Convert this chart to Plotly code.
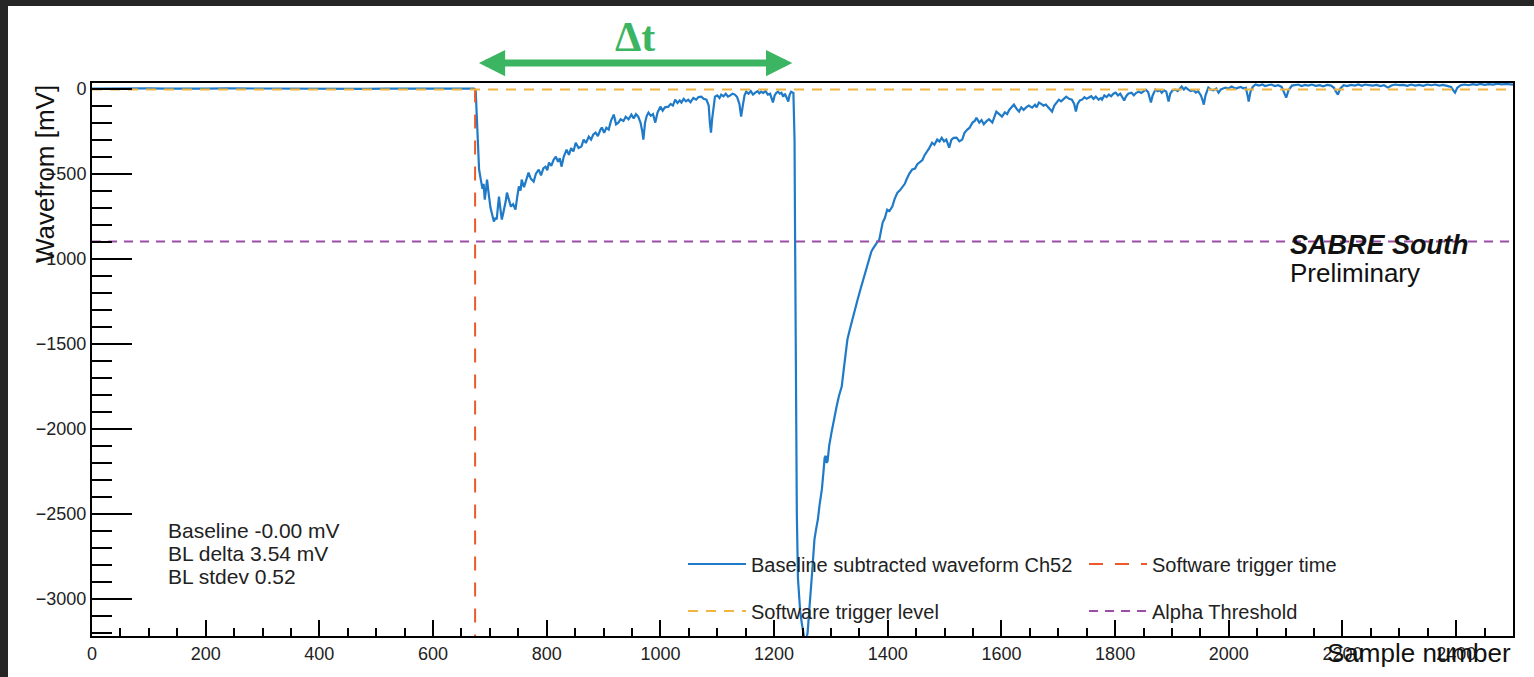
import plotly.graph_objects as go

# ---------------- data ----------------
sample_idx = [
    0, 20, 45, 70, 100, 130, 160, 200, 240, 280, 320, 360, 400, 440, 480, 520, 560, 600, 640, 672,
    675, 677, 679, 681, 684, 687, 689, 691, 693, 695, 698, 701, 704, 707, 710, 712, 714, 716, 719, 721,
    723, 725, 728, 730, 733, 737, 741, 745, 748, 751, 754, 756, 760, 764, 768, 772, 777, 781, 786, 790,
    794, 798, 801, 804, 808, 812, 816, 820, 823, 826, 830, 835, 839, 843, 847, 851, 856, 861, 865, 869,
    874, 878, 882, 886, 890, 894, 897, 901, 905, 909, 913, 918, 922, 926, 930, 935, 939, 944, 949, 953,
    957, 961, 965, 968, 970, 973, 976, 979, 983, 987, 991, 995, 1000, 1004, 1008, 1014, 1018, 1022, 1026, 1030,
    1034, 1037, 1041, 1045, 1049, 1053, 1058, 1063, 1067, 1072, 1076, 1081, 1085, 1087, 1089, 1091, 1094, 1096, 1100, 1104,
    1107, 1111, 1115, 1119, 1123, 1127, 1131, 1135, 1139, 1142, 1145, 1148, 1151, 1155, 1159, 1163, 1167, 1171, 1174, 1177,
    1181, 1185, 1189, 1193, 1196, 1198, 1201, 1204, 1207, 1210, 1213, 1216, 1219, 1222, 1225, 1227, 1230, 1234,
    1236, 1237, 1238, 1239, 1240, 1242, 1244, 1246, 1249, 1251, 1253, 1255, 1257, 1259, 1261, 1263, 1266, 1268, 1271, 1274,
    1277, 1280, 1284, 1287, 1289, 1291, 1292, 1294, 1297, 1301, 1305, 1310, 1314, 1319, 1323, 1329, 1333, 1338, 1343, 1347,
    1352, 1357, 1362, 1368, 1371, 1373, 1376, 1380, 1385, 1388, 1391, 1395, 1399, 1403, 1408, 1412, 1417, 1421, 1426, 1430,
    1433, 1438, 1443, 1448, 1452, 1456, 1461, 1465, 1468, 1473, 1478, 1482, 1487, 1491, 1495, 1499, 1503, 1508, 1512, 1516,
    1521, 1526, 1531, 1535, 1540, 1544, 1549, 1553, 1556, 1561, 1565, 1569, 1573, 1578, 1584, 1588, 1591, 1596, 1601, 1606,
    1610, 1614, 1618, 1622, 1627, 1631, 1635, 1639, 1643, 1648, 1654, 1659, 1662, 1666, 1670, 1674, 1678, 1683, 1689, 1693,
    1697, 1701, 1705, 1709, 1714, 1719, 1724, 1728, 1731, 1734, 1738, 1742, 1746, 1750, 1754, 1758, 1762, 1766, 1771, 1775,
    1777, 1781, 1785, 1789, 1793, 1797, 1801, 1805, 1809, 1813, 1816, 1819, 1823, 1829, 1833, 1837, 1842, 1846, 1850, 1854,
    1858, 1861, 1863, 1866, 1871, 1875, 1879, 1882, 1886, 1890, 1894, 1897, 1901, 1906, 1910, 1914, 1917, 1921, 1924, 1929,
    1933, 1938, 1942, 1946, 1951, 1954, 1956, 1959, 1964, 1968, 1973, 1978, 1982, 1986, 1990, 1994, 1999, 2005, 2009, 2013,
    2017, 2021, 2025, 2030, 2033, 2035, 2038, 2042, 2047, 2053, 2059, 2064, 2069, 2075, 2081, 2087, 2093, 2097, 2101, 2105,
    2111, 2116, 2122, 2128, 2134, 2140, 2146, 2153, 2160, 2166, 2173, 2180, 2185, 2188, 2192, 2196, 2202, 2208, 2215, 2222,
    2228, 2234, 2240, 2247, 2253, 2260, 2267, 2273, 2280, 2286, 2293, 2300, 2307, 2314, 2321, 2328, 2335, 2342, 2349, 2356,
    2363, 2370, 2377, 2384, 2391, 2395, 2398, 2402, 2408, 2415, 2422, 2429, 2436, 2443, 2450, 2457, 2465, 2473, 2480, 2488,
    2500,
]
waveform_mv = [
    0, 1, -1, 0, 1, 0, -1, 0, 1, 0, -1, 0, 1, 0, -1, 0, 1, 0, -1, 0,
    -10, -150, -350, -476, -535, -590, -560, -653, -600, -535, -620, -700, -740, -782, -760, -770, -700, -635, -720, -770,
    -740, -712, -660, -612, -650, -694, -680, -712, -640, -576, -600, -535, -580, -540, -494, -530, -547, -500, -476, -510,
    -470, -459, -480, -435, -455, -420, -400, -430, -410, -459, -400, -359, -390, -350, -370, -318, -350, -341, -300, -320,
    -282, -300, -270, -259, -280, -245, -229, -260, -230, -241, -190, -153, -210, -200, -180, -190, -165, -180, -153, -175,
    -150, -165, -200, -250, -300, -200, -160, -141, -160, -150, -200, -140, -106, -130, -110, -106, -90, -100, -65, -85,
    -70, -82, -60, -75, -65, -80, -55, -65, -50, -47, -60, -65, -100, -200, -259, -180, -80, -47, -40, -55,
    -35, -45, -30, -47, -40, -30, -35, -50, -90, -165, -100, -40, -18, -30, -15, -35, -24, -15, -28, -18,
    -25, -15, -35, -30, -60, -82, -40, -25, -18, -30, -25, -47, -30, -55, -76, -40, -18, -25,
    -300, -900, -1500, -2000, -2500, -2880, -3000, -3080, -3150, -3200, -3230, -3240, -3235, -3200, -3130, -3020, -2888, -2780, -2653, -2590,
    -2535, -2450, -2359, -2250, -2171, -2160, -2200, -2194, -2100, -2024, -1950, -1870, -1810, -1753, -1640, -1476, -1420, -1350, -1290, -1241,
    -1180, -1120, -1060, -988, -960, -947, -930, -910, -890, -830, -788, -760, -712, -720, -694, -650, -612, -600, -576, -560,
    -535, -500, -476, -470, -445, -435, -420, -390, -376, -350, -318, -330, -300, -312, -290, -310, -300, -347, -300, -290,
    -288, -310, -300, -260, -241, -230, -200, -190, -171, -200, -185, -210, -194, -180, -200, -160, -135, -150, -165, -140,
    -150, -124, -110, -94, -120, -135, -110, -125, -112, -100, -112, -95, -110, -82, -90, -100, -94, -110, -135, -100,
    -80, -65, -75, -60, -47, -60, -65, -90, -135, -90, -70, -65, -50, -60, -53, -45, -60, -47, -65, -55,
    -65, -40, -50, -35, -45, -30, -24, -40, -30, -50, -70, -47, -30, -24, -40, -25, -18, -25, -15, -6,
    -20, -60, -82, -40, -6, -15, -10, -24, -10, -18, -76, -30, -10, -6, -15, 0, 12, -5, 6, -6,
    -15, -10, -24, -15, -40, -70, -94, -40, 6, -5, -10, 0, -24, -5, 2, 6, 0, 12, 5, 0,
    6, 10, 2, 5, -40, -76, -20, 10, 24, 18, 24, 15, 20, 24, 15, 20, 10, -20, -53, -10,
    18, 20, 24, 15, 22, 18, 24, 16, 20, 14, 22, 18, 5, -15, -35, 0, 20, 15, 22, 18,
    24, 16, 24, 20, 18, 22, 15, 20, 6, 18, 24, 20, 22, 16, 24, 18, 22, 16, 24, 20,
    24, 18, 22, 16, 10, -10, -24, 5, 20, 24, 20, 26, 22, 28, 22, 26, 24, 29, 25, 27,
    24,
]

x_range = [0, 2500]
y_range = [-3220, 33]
trigger_time_sample = 674
trigger_level_mv = -5
alpha_threshold_mv = -900
delta_t_start = 678
delta_t_end = 1232
baseline_stats = ["Baseline -0.00 mV", "BL delta 3.54 mV", "BL stdev 0.52"]

legend_names = [
    "Baseline subtracted waveform Ch52",
    "Software trigger time",
    "Software trigger level",
    "Alpha Threshold",
]

# ---------------- styling ----------------
FONT = "Liberation Sans, Arial, Helvetica, sans-serif"
C_WAVE = "#1f7ac8"
C_TTIME = "#ec5a2a"
C_TLEVEL = "#f0b440"
C_ALPHA = "#9b4ea6"
C_GREEN = "#3cb562"

W, H = 1534, 677
ML, MR, MT, MB = 92, 21, 83, 41
PW, PH = W - ML - MR, H - MT - MB


def px2paper_x(px):
    return (px - ML) / PW


def px2paper_y(py):
    return (H - MB - py) / PH


fig = go.Figure()

fig.add_trace(go.Scatter(
    x=sample_idx, y=waveform_mv, mode="lines", name=legend_names[0],
    line=dict(color=C_WAVE, width=2.2), legend="legend",
))
fig.add_trace(go.Scatter(
    x=[trigger_time_sample, trigger_time_sample], y=[0, y_range[0]], mode="lines",
    name=legend_names[1], line=dict(color=C_TTIME, width=2, dash="14px,12px"), legend="legend",
))
fig.add_trace(go.Scatter(
    x=x_range, y=[trigger_level_mv, trigger_level_mv], mode="lines",
    name=legend_names[2], line=dict(color=C_TLEVEL, width=2, dash="10px,8px"), legend="legend2",
))
fig.add_trace(go.Scatter(
    x=x_range, y=[alpha_threshold_mv, alpha_threshold_mv], mode="lines",
    name=legend_names[3], line=dict(color=C_ALPHA, width=2, dash="9px,7px"), legend="legend2",
))

annotations = []
# axis titles
annotations.append(dict(
    text="Wavefrom [mV]", xref="paper", yref="paper", x=px2paper_x(45), y=1.0,
    xanchor="center", yanchor="top", textangle=-90, showarrow=False,
    font=dict(family=FONT, size=26, color="#111"),
))
annotations.append(dict(
    text="Sample number", xref="paper", yref="paper", x=1.0, y=px2paper_y(653),
    xanchor="right", yanchor="middle", showarrow=False,
    font=dict(family=FONT, size=26, color="#111"),
))
# baseline stats
for txt, py in zip(baseline_stats, [530, 553, 576]):
    annotations.append(dict(
        text=txt, xref="paper", yref="paper", x=px2paper_x(166), y=px2paper_y(py),
        xanchor="left", yanchor="middle", showarrow=False,
        font=dict(family=FONT, size=21, color="#222"),
    ))
# SABRE South label
annotations.append(dict(
    text="<b><i>SABRE South</i></b>", xref="paper", yref="paper", x=px2paper_x(1288), y=px2paper_y(245),
    xanchor="left", yanchor="middle", showarrow=False,
    font=dict(family=FONT, size=27, color="#111"),
))
annotations.append(dict(
    text="Preliminary", xref="paper", yref="paper", x=px2paper_x(1288), y=px2paper_y(273),
    xanchor="left", yanchor="middle", showarrow=False,
    font=dict(family=FONT, size=26, color="#111"),
))
# delta-t arrow
annotations.append(dict(
    x=delta_t_end, y=px2paper_y(63), xref="x", yref="paper",
    ax=delta_t_start, ay=0, axref="x", ayref="pixel",
    showarrow=True, arrowhead=2, startarrowhead=2, arrowside="end+start",
    arrowsize=0.75, startarrowsize=0.75, arrowwidth=7, arrowcolor=C_GREEN,
    standoff=0, startstandoff=0, text="",
))
annotations.append(dict(
    text="<b>Δt</b>", xref="x", yref="paper", x=(delta_t_start + delta_t_end) / 2, y=px2paper_y(37),
    xanchor="center", yanchor="middle", showarrow=False,
    font=dict(family="Liberation Serif, Times New Roman, serif", size=42, color=C_GREEN),
))

# dark frame strips of the screenshot
shapes = [
    dict(type="rect", xref="paper", yref="paper", x0=px2paper_x(0), x1=px2paper_x(W),
         y0=px2paper_y(6), y1=px2paper_y(0), fillcolor="#262626", line=dict(width=0), layer="above"),
    dict(type="rect", xref="paper", yref="paper", x0=px2paper_x(0), x1=px2paper_x(8),
         y0=px2paper_y(H), y1=px2paper_y(0), fillcolor="#262626", line=dict(width=0), layer="above"),
]

legend_common = dict(
    orientation="h", xanchor="left", yanchor="middle",
    bgcolor="rgba(0,0,0,0)", borderwidth=0, itemwidth=58, entrywidth=328, entrywidthmode="pixels",
    font=dict(family=FONT, size=20, color="#222"), itemclick=False, itemdoubleclick=False,
)

fig.update_layout(
    width=W, height=H,
    margin=dict(l=ML, r=MR, t=MT, b=MB, pad=0),
    paper_bgcolor="white", plot_bgcolor="white",
    showlegend=True,
    legend=dict(x=px2paper_x(683), y=px2paper_y(564), **legend_common),
    legend2=dict(x=px2paper_x(683), y=px2paper_y(611), **legend_common),
    annotations=annotations,
    shapes=shapes,
    xaxis=dict(
        range=x_range, showgrid=False, zeroline=False,
        showline=True, linecolor="black", linewidth=2, mirror=True,
        ticks="inside", ticklen=16, tickwidth=2, tickcolor="black", dtick=200, tick0=0,
        minor=dict(ticks="inside", ticklen=8, tickwidth=2, tickcolor="black", dtick=50),
        tickfont=dict(family=FONT, size=18, color="#222"),
    ),
    yaxis=dict(
        range=y_range, showgrid=False, zeroline=False,
        showline=True, linecolor="black", linewidth=2, mirror=True,
        ticks="inside", ticklen=40, tickwidth=2, tickcolor="black", dtick=500, tick0=0,
        minor=dict(ticks="inside", ticklen=20, tickwidth=2, tickcolor="black", dtick=100),
        tickfont=dict(family=FONT, size=18, color="#222"),
    ),
)

fig.write_html("out.html")
